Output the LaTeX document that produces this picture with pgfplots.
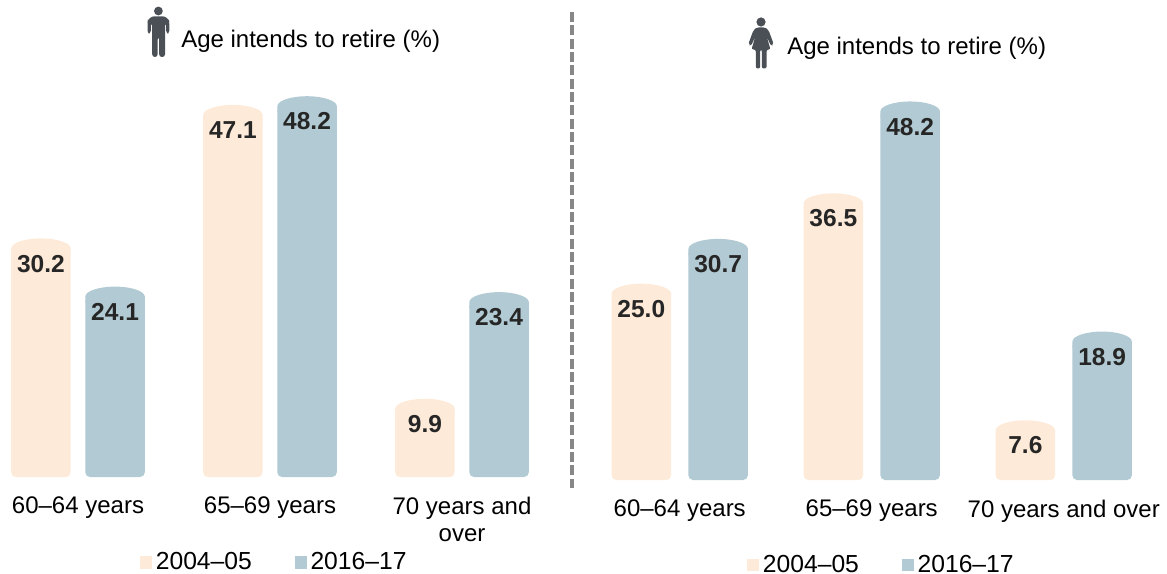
\documentclass[border=0pt]{standalone}
\usepackage{pgfplots}
\pgfplotsset{compat=1.18}
\usepackage{pgfplotstable}
\usepackage{fontspec}
\setmainfont{Liberation Sans}
\definecolor{peach}{RGB}{253,234,216}
\definecolor{steel}{RGB}{178,202,211}
\definecolor{icon}{RGB}{75,80,86}
\definecolor{lab}{RGB}{38,38,38}
% rounded cylinder top of a bar: its top edge lies on the data value
\pgfdeclareplotmark{cap}{%
  \pgfpathmoveto{\pgfpoint{-22.3pt}{-12pt}}%
  \pgfpathlineto{\pgfpoint{-22.3pt}{-7.5pt}}%
  \pgfpathcurveto{\pgfpoint{-22.3pt}{-3.4pt}}{\pgfpoint{-12.3pt}{0pt}}{\pgfpoint{0pt}{0pt}}%
  \pgfpathcurveto{\pgfpoint{12.3pt}{0pt}}{\pgfpoint{22.3pt}{-3.4pt}}{\pgfpoint{22.3pt}{-7.5pt}}%
  \pgfpathlineto{\pgfpoint{22.3pt}{-12pt}}%
  \pgfpathclose
  \pgfusepathqfill}
\pgfplotstableread{
x v
-0.193 30.2
0.807 47.1
1.807 9.9
}\leftA
\pgfplotstableread{
x v
0.193 24.1
1.193 48.2
2.193 23.4
}\leftB
\pgfplotstableread{
x v
-0.2 25.0
0.8 36.5
1.8 7.6
}\rightA
\pgfplotstableread{
x v
0.2 30.7
1.2 48.2
2.2 18.9
}\rightB
\pgfplotsset{
  twofont/.style={font=\fontsize{18}{20.5}\selectfont},
  panel/.style={
    x=144pt, xmin=-0.4, xmax=2.5, ymin=0, ymax=50, anchor=south west,
    clip=false, axis line style={draw=none}, tick style={draw=none},
    xtick={0,1,2}, ytick=\empty, xtick pos=bottom,
    xticklabel style={twofont, align=center, text=black, yshift=-11.5pt},
    /pgf/number format/assume math mode=true,
    legend columns=2,
    legend image code/.code={\fill[##1] (0pt,-4.2pt) rectangle (8.2pt,4.2pt);},
    legend style={draw=none, fill=none, inner sep=0pt, anchor=west,
      font=\fontsize{18.5}{20.5}\selectfont,
      /tikz/every odd column/.append style={column sep=1.2pt},
      /tikz/every even column/.append style={column sep=30.2pt}},
  },
  barA/.style={ybar, bar width=44.6pt, bar shift=0pt, draw=none, fill=peach, rounded corners=3.5pt, forget plot},
  barB/.style={ybar, bar width=44.6pt, bar shift=0pt, draw=none, fill=steel, rounded corners=3.5pt, forget plot},
  capval/.style={only marks, mark=cap, draw=none, fill=#1, mark options={draw=none, fill=#1}, forget plot,
    nodes near coords, 
    every node near coord/.append style={anchor=center, yshift=-18.9pt, text=lab,
      font=\fontsize{18.4}{20}\selectfont\bfseries, inner sep=0pt,
      /pgf/number format/.cd, fixed, fixed zerofill, precision=1, assume math mode=true}},
}
\begin{document}
\begin{tikzpicture}[x=0.75pt,y=-0.75pt]
\useasboundingbox (0,0) rectangle (1167,574);
\begin{axis}[panel, y=5.925pt, at={(0.9pt,-357.75pt)},
  xticklabels={60–64 years,65–69 years,{70 years and\\over}},
  legend style={at={(axis cs:0.322,-10.78)}}]
\addplot[barA] table[x=x, y expr=\thisrow{v}-1.27] {\leftA};
\addplot[barB] table[x=x, y expr=\thisrow{v}-1.27] {\leftB};
\addplot[capval=peach] table[x=x, y=v] {\leftA};
\addplot[capval=steel] table[x=x, y=v] {\leftB};
\addlegendimage{peach}\addlegendentry{2004–05}
\addlegendimage{steel}\addlegendentry{2016–17}
\end{axis}
\begin{axis}[panel, y=5.89pt, at={(452.2pt,-360pt)},
  xticklabels={60–64 years,65–69 years,70 years and over},
  legend style={at={(axis cs:0.35,-10.8)}}]
\addplot[barA] table[x=x, y expr=\thisrow{v}-1.27] {\rightA};
\addplot[barB] table[x=x, y expr=\thisrow{v}-1.27] {\rightB};
\addplot[capval=peach] table[x=x, y=v] {\rightA};
\addplot[capval=steel] table[x=x, y=v] {\rightB};
\addlegendimage{peach}\addlegendentry{2004–05}
\addlegendimage{steel}\addlegendentry{2016–17}
\end{axis}
% divider
\draw[color=black!47, line width=2.7pt, dash pattern=on 7.5pt off 2.5pt] (572,12) -- (572,488);
% titles
\node[anchor=west, inner sep=0pt, font=\fontsize{18}{20}\selectfont] at (181,41) {Age intends to retire (\%)};
\node[anchor=west, inner sep=0pt, font=\fontsize{18}{20}\selectfont] at (787,48) {Age intends to retire (\%)};
% man icon
\fill[icon] (158.4,11) circle[radius=4.4];
\fill[icon, rounded corners=2] (147.5,33.5) -- (147.5,22) [rounded corners=4.5] -- (148.5,16.3) -- (168.3,16.3) [rounded corners=2] -- (169.3,22) -- (169.3,33.5) -- (166.2,33.5) -- (166.2,23) -- (165,23) -- (165,57) -- (159.2,57) -- (159.2,37) -- (157.6,37) -- (157.6,57) -- (152.2,57) -- (152.2,23) -- (150.8,23) -- (150.8,33.5) -- cycle;
% woman icon
\fill[icon] (761,22) circle[radius=4.6];
\fill[icon, rounded corners=1.5] (757,27.3) -- (765,27.3) -- (768.5,30) -- (773.8,44.5) -- (771,46) -- (766.5,36) -- (770.5,49.5) -- (766.6,49.5) -- (766.6,68.5) -- (761.8,68.5) -- (761.8,49.5) -- (760.2,49.5) -- (760.2,68.5) -- (755.8,68.5) -- (755.8,49.5) -- (751.5,49.5) -- (755.5,36) -- (751,46) -- (748.2,44.5) -- (753.5,30) -- cycle;
\end{tikzpicture}
\end{document}
